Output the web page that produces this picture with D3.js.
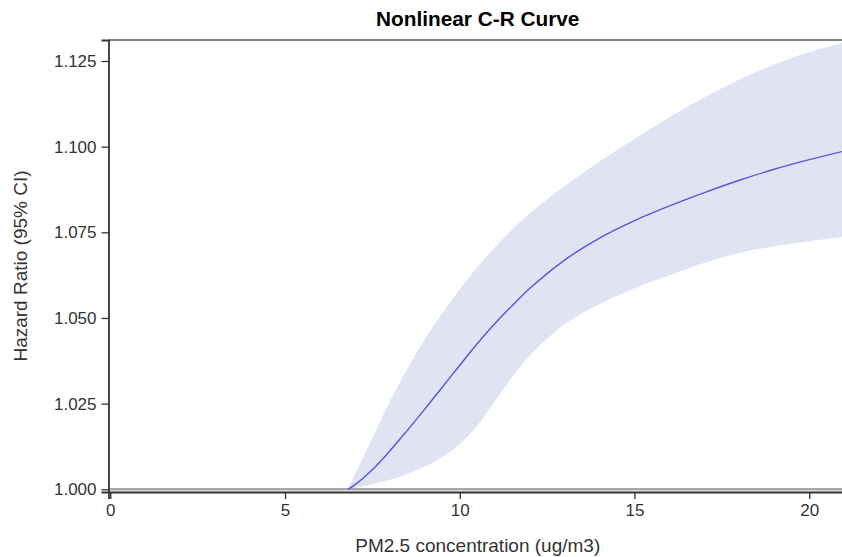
<!DOCTYPE html>
<html>
<head>
<meta charset="utf-8">
<script src="https://cdn.jsdelivr.net/npm/d3@7"></script>
<style>
  html, body { margin: 0; padding: 0; background: #fff; overflow: hidden; }
  svg { display: block; font-family: "Liberation Sans", Arial, sans-serif; }
</style>
</head>
<body>
<svg id="chart" width="842" height="557"></svg>
<script>
// PM2.5 concentration (ug/m3)
const concentration = [6.8, 7.0, 7.5, 8.0, 8.5, 9.0, 9.5, 10.0, 10.5, 11.0, 11.5, 12.0, 13.0, 14.0, 15.0, 16.0, 17.0, 18.0, 19.0, 20.0, 21.0];
// Estimated hazard ratio
const hazardRatio = [1.0000, 1.0013, 1.0057, 1.0112, 1.0172, 1.0234, 1.0298, 1.0362, 1.0425, 1.0483, 1.0536, 1.0586, 1.0669, 1.0733, 1.0784, 1.0827, 1.0866, 1.0902, 1.0934, 1.0962, 1.0987];
// 95% confidence limits
const lowerCI = [1.0000, 1.0004, 1.0015, 1.0028, 1.0045, 1.0066, 1.0094, 1.0132, 1.0186, 1.0256, 1.0328, 1.0390, 1.0482, 1.0541, 1.0587, 1.0625, 1.0661, 1.0690, 1.0709, 1.0724, 1.0737];
const upperCI = [1.0000, 1.0043, 1.0150, 1.0256, 1.0352, 1.0438, 1.0514, 1.0584, 1.0648, 1.0706, 1.0758, 1.0805, 1.0885, 1.0957, 1.1023, 1.1086, 1.1144, 1.1196, 1.1240, 1.1276, 1.1305];

const xTicks = [0, 5, 10, 15, 20];
const yTicks = [1.000, 1.025, 1.050, 1.075, 1.100, 1.125];
const referenceHR = 1.0;

const rows = concentration.map((c, i) => ({ x: c, hr: hazardRatio[i], lo: lowerCI[i], hi: upperCI[i] }));

const plot = { left: 108.5, top: 40, right: 847, bottom: 492 };

const svg = d3.select("#chart");

const x = d3.scaleLinear().domain([-0.05, 21.08]).range([plot.left, plot.right]);
const y = d3.scaleLinear().domain([0.99921, 1.13113]).range([plot.bottom, plot.top]);

const smooth = d3.curveCatmullRom.alpha(0.5);

svg.append("defs").append("clipPath").attr("id", "plot-clip")
  .append("rect")
  .attr("x", plot.left).attr("y", plot.top)
  .attr("width", plot.right - plot.left).attr("height", plot.bottom - plot.top);

const inner = svg.append("g").attr("clip-path", "url(#plot-clip)");

// Confidence band
inner.append("path")
  .datum(rows)
  .attr("fill", "#dfe3f2")
  .attr("d", d3.area()
    .curve(smooth)
    .x(d => x(d.x))
    .y0(d => y(d.lo))
    .y1(d => y(d.hi)));

// Reference line at HR = 1
inner.append("line")
  .attr("x1", plot.left).attr("x2", plot.right)
  .attr("y1", y(referenceHR)).attr("y2", y(referenceHR))
  .attr("stroke", "#a8a8a8")
  .attr("stroke-width", 2.4);

// Hazard ratio curve
inner.append("path")
  .datum(rows)
  .attr("fill", "none")
  .attr("stroke", "#5656dc")
  .attr("stroke-width", 1.4)
  .attr("d", d3.line()
    .curve(smooth)
    .x(d => x(d.x))
    .y(d => y(d.hr)));

// Frame: top border
svg.append("line")
  .attr("x1", plot.left).attr("x2", plot.right)
  .attr("y1", plot.top).attr("y2", plot.top)
  .attr("stroke", "#555").attr("stroke-width", 1.3);

// Axes
const xAxis = svg.append("g")
  .attr("transform", `translate(0,${plot.bottom})`)
  .call(d3.axisBottom(x).tickValues(xTicks).tickFormat(d3.format("d")).tickSize(7).tickPadding(5));

const yAxis = svg.append("g")
  .attr("transform", `translate(${plot.left},0)`)
  .call(d3.axisLeft(y).tickValues(yTicks).tickFormat(d3.format(".3f")).tickSize(7).tickPadding(5));

[xAxis, yAxis].forEach(ax => {
  ax.select(".domain").attr("stroke", "#333").attr("stroke-width", 1.8);
  ax.selectAll(".tick line").attr("stroke", "#333").attr("stroke-width", 1.3);
  ax.selectAll(".tick text")
    .attr("fill", "#333")
    .style("font-family", "'Liberation Sans', Arial, sans-serif")
    .style("font-size", "17px");
});

// Title and axis labels
svg.append("text")
  .attr("x", (plot.left + plot.right) / 2)
  .attr("y", 26)
  .attr("text-anchor", "middle")
  .attr("fill", "#000")
  .style("font-size", "20.8px")
  .style("font-weight", "bold")
  .text("Nonlinear C-R Curve");

svg.append("text")
  .attr("x", (plot.left + plot.right) / 2)
  .attr("y", 552)
  .attr("text-anchor", "middle")
  .attr("fill", "#333")
  .style("font-size", "19px")
  .text("PM2.5 concentration (ug/m3)");

svg.append("text")
  .attr("transform", `translate(27,${(plot.top + plot.bottom) / 2}) rotate(-90)`)
  .attr("text-anchor", "middle")
  .attr("fill", "#333")
  .style("font-size", "19px")
  .text("Hazard Ratio (95% CI)");
</script>
</body>
</html>
